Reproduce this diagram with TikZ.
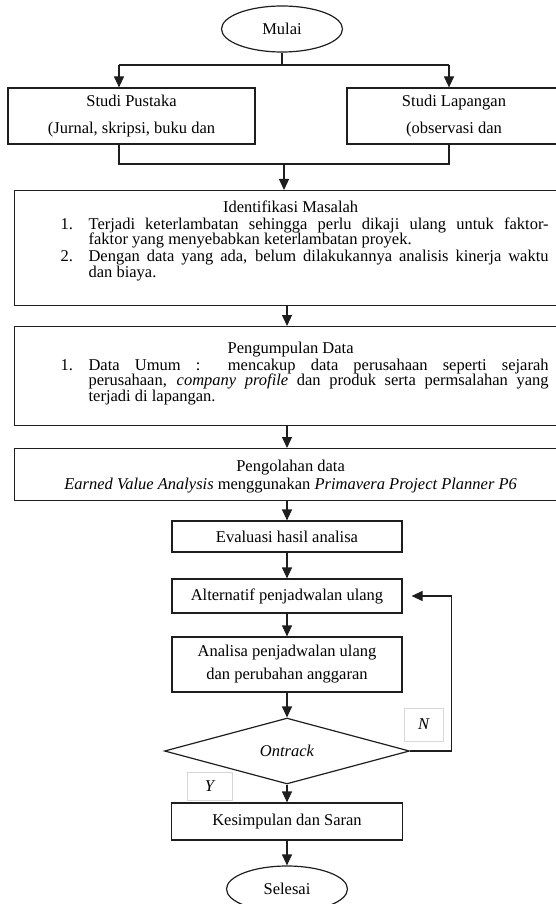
\documentclass[tikz,border=0pt]{standalone}
\usepackage{fontspec}
\setmainfont{Liberation Serif}
\usepackage{tikz}
\usetikzlibrary{positioning,arrows.meta,shapes.geometric,calc}
\usepackage{xcolor}
\definecolor{LineGray}{RGB}{30,30,30}
\definecolor{TagGray}{RGB}{215,215,215}
\newcommand{\numitem}[2]{\par\noindent
    \begin{tabular}[t]{@{}p{28pt}@{}p{460pt}@{}}#1&#2\end{tabular}\par}
\newcommand{\midline}[1]{\par\noindent\makebox[460pt]{#1}\hfill\par}
\newcommand{\padbottom}[1]{\par\vbox to #1{}}

\begin{document}
\begin{tikzpicture}[x=1pt, y=-1pt,
    font=\fontsize{16.5}{17}\selectfont,
    stepbox/.style={rectangle, draw=LineGray, line width=1.2pt, align=center, inner sep=2pt},
    widebox/.style={rectangle, draw=LineGray, line width=1.2pt, text width=488pt,
        inner xsep=46pt, inner ysep=5pt, align=justify, anchor=north west,
        font=\fontsize{16.5}{15.5}\selectfont},
    terminal/.style={ellipse, draw=LineGray, line width=1.2pt, minimum width=121pt,
        minimum height=46pt, inner sep=0pt},
    decision/.style={diamond, draw=LineGray, line width=1.2pt, minimum width=245pt,
        minimum height=58pt, inner sep=0pt},
    tagbox/.style={rectangle, draw=TagGray, line width=0.8pt, font=\fontsize{16.5}{17}\selectfont\itshape},
    arr/.style={-{Triangle[length=11pt,width=10pt]}, line width=1.2pt, LineGray},
    link/.style={line width=1.2pt, LineGray},
]
\useasboundingbox (0,0) rectangle (556,904);

\node[terminal] (mulai) at (282,29) {Mulai};
\node[stepbox, minimum width=247pt, minimum height=56pt] (pustaka) at (131.5,116)
    {Studi Pustaka\\[10pt](Jurnal, skripsi, buku dan};
\node[stepbox, minimum width=214pt, minimum height=56pt] (lapangan) at (454,116)
    {Studi Lapangan\\[10pt](observasi dan};

\node[widebox, minimum height=115pt] (identifikasi) at (14,190) {%
    \midline{Identifikasi Masalah}\vspace{1pt}
    \numitem{1.}{Terjadi keterlambatan sehingga perlu dikaji ulang untuk faktor-\linebreak
        faktor yang menyebabkan keterlambatan proyek.}
    \numitem{2.}{Dengan data yang ada, belum dilakukannya analisis kinerja waktu\linebreak
        dan biaya.}
    \padbottom{16pt}};
\node[widebox, minimum height=99pt] (pengumpulan) at (14,326) {%
    \midline{Pengumpulan Data}\vspace{1pt}
    \numitem{1.}{Data Umum : mencakup data perusahaan seperti sejarah\linebreak
        perusahaan, \textit{company profile} dan produk serta permsalahan yang\linebreak
        terjadi di lapangan.}
    \padbottom{7pt}};
\node[widebox, minimum height=52pt] (pengolahan) at (14,448) {%
    \midline{Pengolahan data}\vspace{3pt}
    \midline{\textit{Earned Value Analysis} menggunakan \textit{Primavera Project Planner P6}}};

\node[stepbox, minimum width=230pt, minimum height=31pt] (evaluasi) at (287,536.5)
    {Evaluasi hasil analisa};
\node[stepbox, minimum width=230pt, minimum height=34pt] (alternatif) at (287,596)
    {Alternatif penjadwalan ulang};
\node[stepbox, minimum width=230pt, minimum height=55pt] (analisa) at (287,664.5)
    {Analisa penjadwalan ulang\\[6pt]dan perubahan anggaran};
\node[decision] (cek) at (287,751) {\textit{Ontrack}};
\node[tagbox, minimum width=39pt, minimum height=33pt] (ntag) at (423.5,724.5) {N};
\node[tagbox, minimum width=45pt, minimum height=28pt] (ytag) at (209.5,786) {Y};
\node[stepbox, minimum width=231pt, minimum height=37pt] (kesimpulan) at (287,821.5)
    {Kesimpulan dan Saran};
\node[terminal] (selesai) at (287,889) {Selesai};

% split and join of the two studies
\coordinate (split) at (282,65);
\coordinate (sL) at (119,65);
\coordinate (sR) at (449,65);
\coordinate (jL) at (119,164);
\coordinate (jR) at (449,164);
\coordinate (join) at (284,164);
\coordinate (axis) at (287,0);

\draw[link] (mulai) -- (split);
\draw[link] (sL) -- (sR);
\draw[arr] (sL) -- (sL |- pustaka.north);
\draw[arr] (sR) -- (sR |- lapangan.north);
\draw[link] (sL |- pustaka.south) -- (jL) -- (jR) -- (sR |- lapangan.south);
\draw[arr] (join) -- (join |- identifikasi.north);

\draw[arr] (identifikasi.south -| axis) -- (pengumpulan.north -| axis);
\draw[arr] (pengumpulan.south -| axis) -- (pengolahan.north -| axis);
\draw[arr] (pengolahan.south -| axis) -- (evaluasi);
\draw[arr] (evaluasi) -- (alternatif);
\draw[arr] (alternatif) -- (analisa);
\draw[arr] (analisa) -- (cek);
\draw[arr] (cek) -- (kesimpulan);
\draw[arr] (kesimpulan) -- (selesai);

% back to rescheduling
\draw[arr, shorten >=9pt] (cek.east) -- ++(41,0) |- (alternatif.east);
\end{tikzpicture}
\end{document}
